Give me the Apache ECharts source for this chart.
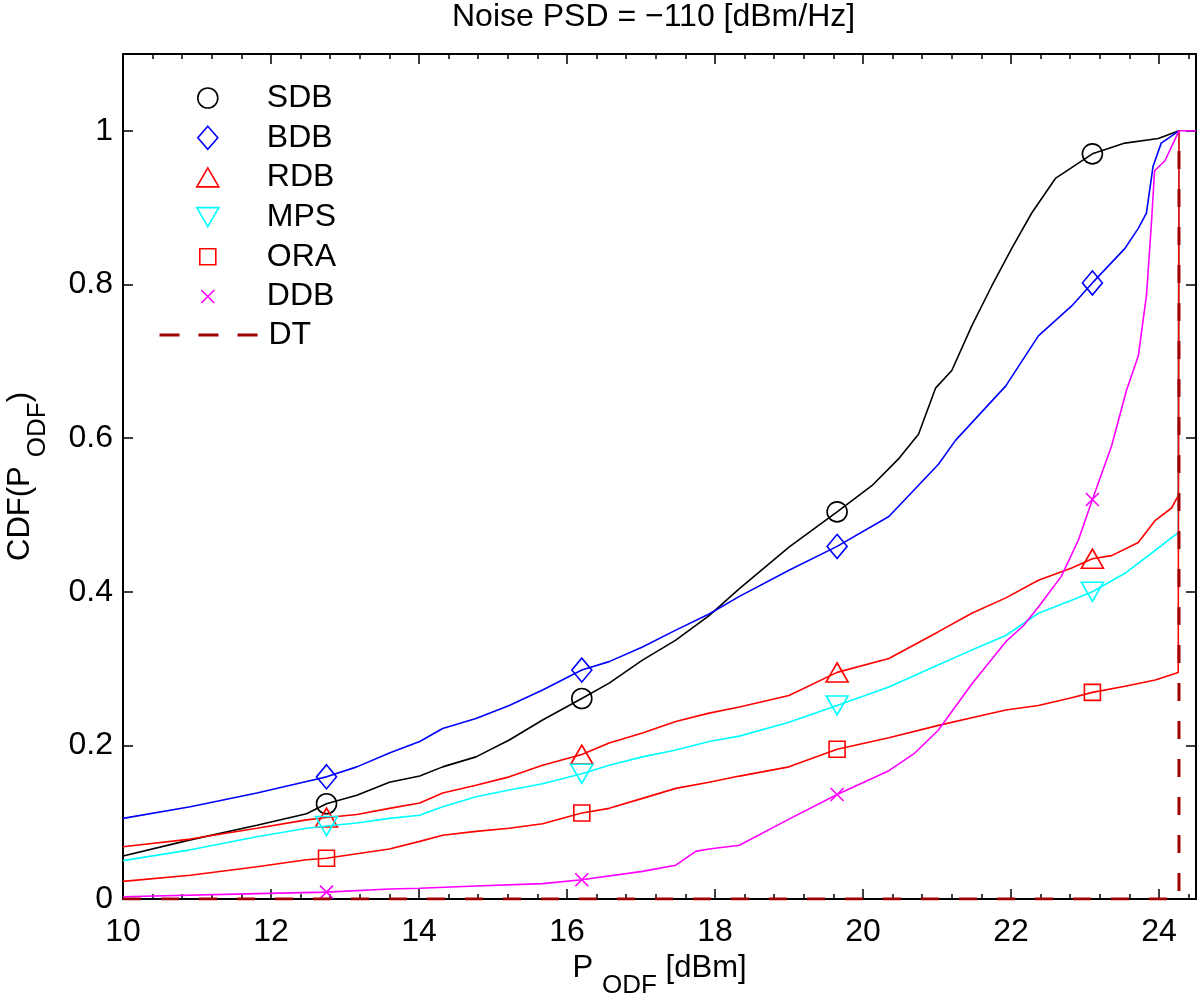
<!DOCTYPE html>
<html>
<head>
<meta charset="utf-8">
<script src="https://cdn.jsdelivr.net/npm/echarts@6/dist/echarts.min.js"></script>
<style>html,body{margin:0;padding:0;background:#fff}#c{width:1200px;height:1002px}</style>
</head>
<body>
<div id="c"></div>
<script>
const FONT = '"Liberation Sans", Arial, Helvetica, sans-serif';
const titleText = 'Noise PSD = \u2212110 [dBm/Hz]';
const seriesNames = ['SDB', 'BDB', 'RDB', 'MPS', 'ORA', 'DDB', 'DT'];
const markerX = [12.75, 16.2, 19.65, 23.1];

const sdbX = [10, 10.91, 11.81, 12.48, 12.75, 13.16, 13.6, 14.01, 14.32, 14.77, 15.22, 15.67, 16.2, 16.57, 17.02, 17.47, 17.92, 18.33, 19.0, 19.65, 20.12, 20.49, 20.75, 20.98, 21.2, 21.47, 21.74, 22.01, 22.28, 22.6, 23.1, 23.54, 23.99, 24.27];
const sdbY = [0.056, 0.077, 0.096, 0.111, 0.124, 0.135, 0.152, 0.160, 0.172, 0.185, 0.207, 0.233, 0.261, 0.281, 0.311, 0.337, 0.369, 0.404, 0.458, 0.504, 0.538, 0.574, 0.605, 0.665, 0.688, 0.746, 0.798, 0.847, 0.893, 0.938, 0.970, 0.984, 0.990, 1.0];

const bdbX = [10, 10.91, 11.81, 12.48, 12.75, 13.16, 13.6, 14.01, 14.32, 14.77, 15.22, 15.67, 16.2, 16.57, 17.02, 17.47, 17.92, 18.33, 19.0, 19.65, 20.35, 21.02, 21.25, 21.93, 22.37, 22.82, 23.1, 23.54, 23.72, 23.83, 23.92, 24.03, 24.27];
const bdbY = [0.105, 0.120, 0.138, 0.153, 0.159, 0.172, 0.190, 0.205, 0.222, 0.235, 0.252, 0.272, 0.298, 0.309, 0.328, 0.350, 0.371, 0.394, 0.428, 0.459, 0.498, 0.566, 0.597, 0.668, 0.733, 0.772, 0.802, 0.847, 0.873, 0.893, 0.954, 0.984, 1.0];

const rdbX = [10, 10.91, 11.81, 12.48, 12.75, 13.16, 13.6, 14.01, 14.32, 14.77, 15.22, 15.67, 16.2, 16.57, 17.02, 17.47, 17.92, 18.33, 19.0, 19.65, 20.35, 21.02, 21.47, 21.93, 22.37, 22.82, 23.1, 23.36, 23.72, 23.95, 24.17, 24.26, 24.27];
const rdbY = [0.068, 0.078, 0.092, 0.103, 0.106, 0.110, 0.118, 0.125, 0.138, 0.148, 0.159, 0.174, 0.188, 0.203, 0.216, 0.231, 0.242, 0.250, 0.265, 0.295, 0.313, 0.348, 0.372, 0.392, 0.415, 0.431, 0.443, 0.447, 0.464, 0.493, 0.509, 0.525, 1.0];

const mpsX = [10, 10.91, 11.81, 12.48, 12.75, 13.16, 13.6, 14.01, 14.32, 14.77, 15.22, 15.67, 16.2, 16.57, 17.02, 17.47, 17.92, 18.33, 19.0, 19.65, 20.35, 21.02, 21.47, 21.93, 22.37, 22.82, 23.1, 23.54, 23.95, 24.26, 24.27];
const mpsY = [0.050, 0.064, 0.081, 0.092, 0.095, 0.099, 0.105, 0.109, 0.120, 0.133, 0.142, 0.150, 0.163, 0.174, 0.185, 0.194, 0.205, 0.212, 0.230, 0.252, 0.276, 0.305, 0.324, 0.343, 0.372, 0.389, 0.400, 0.424, 0.454, 0.477, 1.0];

const oraX = [10, 10.91, 11.81, 12.48, 12.75, 13.16, 13.6, 14.01, 14.32, 14.77, 15.22, 15.67, 16.2, 16.57, 17.02, 17.47, 17.92, 18.33, 19.0, 19.65, 20.35, 21.02, 21.47, 21.93, 22.37, 22.82, 23.1, 23.54, 23.95, 24.26, 24.27];
const oraY = [0.023, 0.031, 0.042, 0.051, 0.053, 0.059, 0.065, 0.075, 0.083, 0.088, 0.092, 0.098, 0.112, 0.118, 0.131, 0.144, 0.152, 0.160, 0.172, 0.195, 0.210, 0.226, 0.236, 0.246, 0.252, 0.262, 0.269, 0.277, 0.285, 0.295, 1.0];

const ddbX = [10, 11.81, 12.75, 13.6, 14.01, 14.77, 15.67, 16.2, 17.02, 17.47, 17.74, 17.92, 18.33, 19.0, 19.65, 20.35, 20.7, 21.02, 21.47, 21.93, 22.17, 22.37, 22.68, 22.91, 23.1, 23.36, 23.56, 23.72, 23.83, 23.9, 23.94, 24.08, 24.27, 24.5];
const ddbY = [0.003, 0.007, 0.009, 0.013, 0.014, 0.017, 0.020, 0.025, 0.036, 0.044, 0.062, 0.065, 0.070, 0.104, 0.136, 0.167, 0.190, 0.220, 0.280, 0.335, 0.356, 0.380, 0.420, 0.467, 0.520, 0.590, 0.662, 0.707, 0.785, 0.883, 0.948, 0.961, 1.0, 1.0];

const dtX = [10, 24.27, 24.27];
const dtY = [0, 0, 1];

const colors = ['#000000', '#0000ff', '#ff0000', '#00ffff', '#ff0000', '#ff00ff', '#a00000'];
const symbols = ['circle', 'diamond', 'triangle', 'path://M0,0L22,0L11,19Z', 'rect', 'path://M0,0L10,10M10,0L0,10'];
const symbolSizes = [20, [20, 24], [22, 19], [22, 19], 16, 13];
// legend icons drawn inside a fixed 24x24 box so each keeps its own size
const legendIcons = [
  'path://M0,0M24,24M22,12A10,10,0,1,1,2,12A10,10,0,1,1,22,12Z',
  'path://M0,0M24,24M12,0.5L22,12L12,23.5L2,12Z',
  'path://M0,0M24,24M1,21.5L12,2.5L23,21.5Z',
  'path://M0,0M24,24M1,2.5L23,2.5L12,21.5Z',
  'path://M0,0M24,24M4,4L20,4L20,20L4,20Z',
  'path://M0,0M24,24M5.5,5.5L18.5,18.5M18.5,5.5L5.5,18.5'
];

const xs = [sdbX, bdbX, rdbX, mpsX, oraX, ddbX];
const ys = [sdbY, bdbY, rdbY, mpsY, oraY, ddbY];

function build(xArr, yArr) {
  return xArr.map((x, i) => {
    const isMarker = markerX.indexOf(x) >= 0;
    return isMarker ? { value: [x, yArr[i]] } : { value: [x, yArr[i]], symbol: 'none' };
  });
}

const series = xs.map((xArr, k) => ({
  name: seriesNames[k],
  type: 'line',
  data: build(xArr, ys[k]),
  symbol: symbols[k],
  symbolSize: symbolSizes[k],
  showSymbol: true,
  lineStyle: { color: colors[k], width: 1.6 },
  itemStyle: { color: 'rgba(0,0,0,0)', borderColor: colors[k], borderWidth: 1.6 },
  emphasis: { disabled: true },
  z: 2 + k
}));
series.push({
  name: 'DT',
  type: 'line',
  data: dtX.map((x, i) => [x, dtY[i]]),
  symbol: 'none',
  lineStyle: { color: colors[6], width: 3, type: [18, 20] },
  itemStyle: { color: colors[6] },
  emphasis: { disabled: true },
  z: 10
});

const legendItems = seriesNames.slice(0, 6).map((n, k) => ({
  name: n,
  icon: legendIcons[k],
  itemStyle: { color: 'rgba(0,0,0,0)', borderColor: colors[k], borderWidth: 1.6 }
}));

const axisCommonX = {
  type: 'value', min: 10, max: 24.5, interval: 2,
  axisLine: { onZero: false, lineStyle: { color: '#000', width: 2 } },
  axisTick: { inside: true, length: 10, lineStyle: { color: '#000', width: 1.5 } },
  minorTick: { show: true, splitNumber: 5, length: 5, lineStyle: { color: '#000', width: 1.5 } },
  splitLine: { show: false }, minorSplitLine: { show: false }
};
const axisCommonY = {
  type: 'value', min: 0, max: 1.1, interval: 0.2,
  axisLine: { onZero: false, lineStyle: { color: '#000', width: 2 } },
  axisTick: { inside: true, length: 10, lineStyle: { color: '#000', width: 1.5 } },
  splitLine: { show: false }
};
const nameRich = {
  m: { fontSize: 31, lineHeight: 30, verticalAlign: 'top', color: '#000', fontFamily: FONT },
  s: { fontSize: 26, lineHeight: 46, verticalAlign: 'bottom', color: '#000', fontFamily: FONT, padding: [0, 0, 0, 9] }
};

const chart = echarts.init(document.getElementById('c'), null, { renderer: 'canvas' });
chart.setOption({
  animation: false,
  backgroundColor: '#fff',
  title: {
    text: titleText, left: 452, top: 1, padding: 0,
    textStyle: { fontSize: 32, fontWeight: 'normal', color: '#000', fontFamily: FONT }
  },
  grid: { left: 123, right: 4, top: 54, bottom: 103, containLabel: false, outerBoundsMode: 'none' },
  legend: [
    {
      data: legendItems, orient: 'vertical', left: 195, top: 82, padding: 0,
      itemWidth: 24, itemHeight: 24, itemGap: 7.7, selectedMode: false,
      textStyle: { fontSize: 32, color: '#000', fontFamily: FONT, padding: [0, 0, 0, 42] }
    },
    {
      data: [{ name: 'DT', icon: 'line', itemStyle: { color: 'rgba(0,0,0,0)', borderColor: colors[6], borderWidth: 3, borderType: [20, 19] } }],
      orient: 'vertical', left: 158, top: 319, padding: 0,
      itemWidth: 98, itemHeight: 24, selectedMode: false,
      textStyle: { fontSize: 32, color: '#000', fontFamily: FONT, padding: [0, 0, 0, 6] }
    }
  ],
  xAxis: [
    Object.assign({}, axisCommonX, {
      position: 'bottom',
      axisLabel: { fontSize: 32, color: '#000', fontFamily: FONT, margin: 17, showMaxLabel: false },
      name: '{m|P}{s|ODF}{m| [dBm]}', nameLocation: 'middle', nameGap: 54, nameMoveOverlap: false,
      nameTextStyle: { rich: nameRich }
    }),
    Object.assign({}, axisCommonX, { position: 'top', axisLabel: { show: false } })
  ],
  yAxis: [
    Object.assign({}, axisCommonY, {
      position: 'left',
      axisLabel: { fontSize: 32, color: '#000', fontFamily: FONT, margin: 10, showMaxLabel: false },
      name: '{m|CDF(P}{s|ODF}{m|)}', nameLocation: 'middle', nameGap: 72, nameMoveOverlap: false,
      nameTextStyle: { rich: nameRich }
    }),
    Object.assign({}, axisCommonY, { position: 'right', axisLabel: { show: false } })
  ],
  series: series
});
</script>
</body>
</html>
